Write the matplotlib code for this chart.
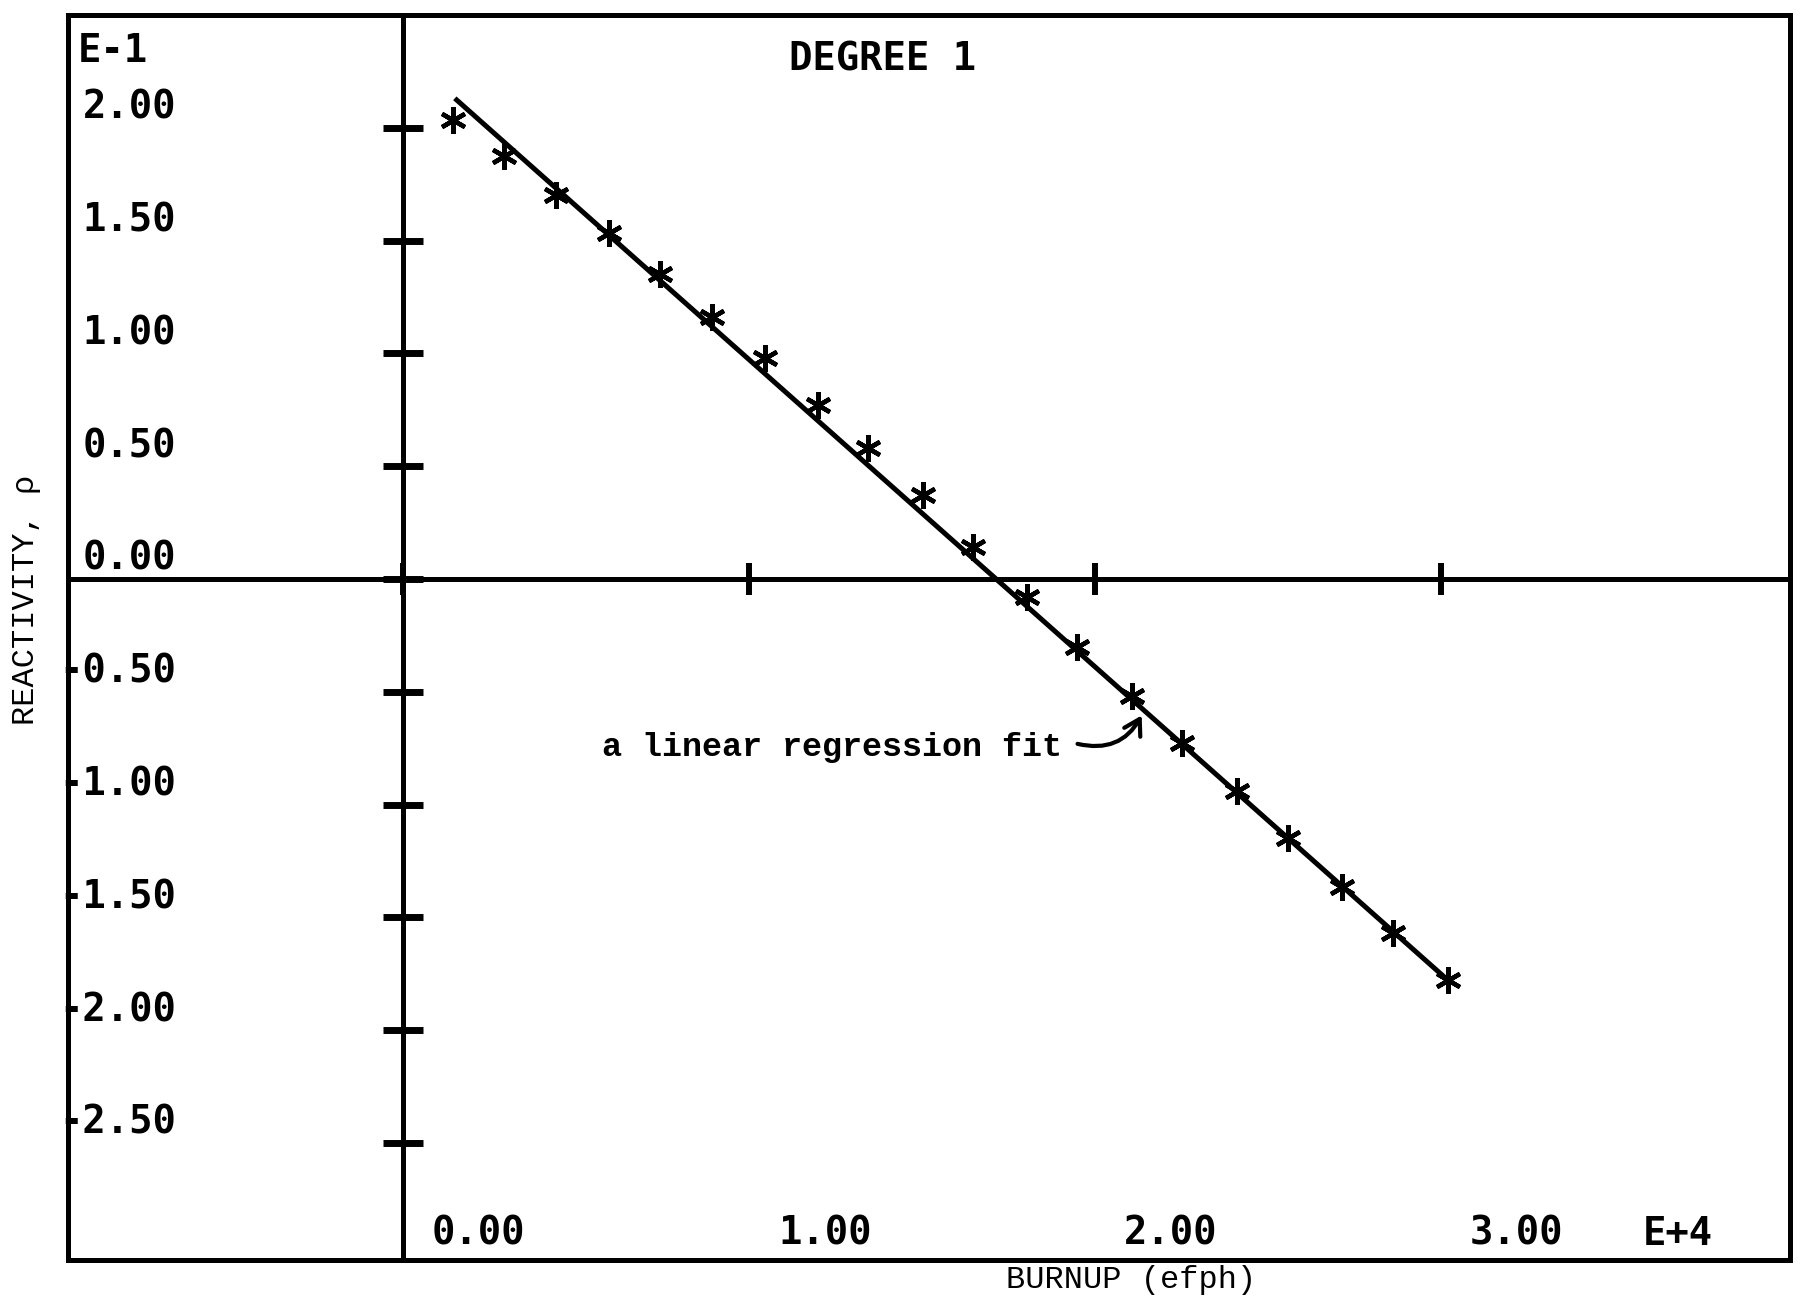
import numpy as np
import matplotlib
matplotlib.use("Agg")
import matplotlib.pyplot as plt
from matplotlib.patches import Rectangle, FancyArrowPatch

# Burnup in units of 1E+4 efph, reactivity in units of 1E-1
burnup = [0.145, 0.292, 0.442, 0.595, 0.743, 0.894, 1.046, 1.200, 1.345, 1.504,
          1.648, 1.803, 1.949, 2.108, 2.253, 2.411, 2.559, 2.713, 2.862, 3.021]
reactivity = [2.035, 1.875, 1.702, 1.532, 1.351, 1.163, 0.981, 0.771, 0.579, 0.372,
              0.143, -0.078, -0.303, -0.519, -0.728, -0.938, -1.149, -1.364, -1.570, -1.777]

# first-degree least-squares line: rho = fit_intercept + fit_slope * burnup
fit_slope = -1.362
fit_intercept = 2.335
fit_range = [0.150, 3.031]

y_ticks = [2.0, 1.5, 1.0, 0.5, 0.0, -0.5, -1.0, -1.5, -2.0, -2.5]
y_tick_labels = ["2.00", "1.50", "1.00", "0.50", "0.00",
                 "-0.50", "-1.00", "-1.50", "-2.00", "-2.50"]
x_ticks = [0.0, 1.0, 2.0, 3.0]
x_tick_labels = ["0.00", "1.00", "2.00", "3.00"]

W, H = 1805, 1298
fig = plt.figure(figsize=(W / 100, H / 100), dpi=100)
fig.patch.set_facecolor("white")

# plot frame in pixels
L, R, T, B = 68, 1790, 15, 1260
ax = fig.add_axes([L / W, 1 - B / H, (R - L) / W, (B - T) / H])
ax.set_xlim(-0.968, 4.009)
ax.set_ylim(-3.019, 2.5)

LW = 3.6
plotter_font = dict(family="DejaVu Sans Mono", weight="bold", size=28)
type_font = dict(family="Liberation Mono", size=23)

# axes crossing at the origin, outer box around everything
for s in ["top", "right"]:
    ax.spines[s].set_visible(False)
ax.spines["left"].set_position(("data", 0))
ax.spines["bottom"].set_position(("data", 0))
for s in ["left", "bottom"]:
    ax.spines[s].set_linewidth(LW)
ax.add_patch(Rectangle((0, 0), 1, 1, transform=ax.transAxes, fill=False,
                       lw=LW, ec="black", clip_on=False, zorder=5))

ax.set_yticks(y_ticks)
ax.set_xticks(x_ticks)
ax.tick_params(axis="y", direction="inout", length=29, width=5.0,
               labelleft=False, color="black")
ax.tick_params(axis="x", direction="inout", length=23, width=4.3,
               labelbottom=False, color="black")

# tick labels in the plotter font
for v, lab in zip(y_ticks, y_tick_labels):
    ax.text(-0.656, v + 0.04, lab, ha="right", va="baseline", **plotter_font)
for v, lab in zip(x_ticks, x_tick_labels):
    ax.text(v + 0.084, -2.952, lab, ha="left", va="baseline", **plotter_font)
ax.text(-0.939, 2.292, "E-1", ha="left", va="baseline", **plotter_font)
ax.text(3.584, -2.952, "E+4", ha="left", va="baseline", **plotter_font)
ax.text(1.387, 2.256, "DEGREE 1", ha="center", va="baseline", **plotter_font)

# fitted line and data points
xf = np.array(fit_range)
ax.plot(xf, fit_intercept + fit_slope * xf, color="black", lw=LW,
        solid_capstyle="butt", zorder=3)
ax.plot(burnup, reactivity, ls="none", marker=(6, 2, 0), ms=19, mew=3.2,
        color="black", zorder=4)

# annotation
ax.text(0.575, -0.785, "a linear regression fit", ha="left", va="baseline",
        family="Liberation Mono", size=24, weight="bold")
arrow = FancyArrowPatch((1.942, -0.728), (2.139, -0.594),
                        connectionstyle="arc3,rad=0.4",
                        arrowstyle="->,head_length=0.5,head_width=0.3",
                        mutation_scale=22, lw=3.0, color="black", zorder=4)
ax.add_patch(arrow)

# axis titles
fig.text(26 / W, 1 - 600 / H, "REACTIVITY, ρ", rotation=90,
         ha="center", va="center", **type_font)
fig.text(1131 / W, 1 - 1288 / H, "BURNUP (efph)", ha="center",
         va="baseline", **type_font)

fig.savefig("out.png", dpi=100, facecolor="white")
